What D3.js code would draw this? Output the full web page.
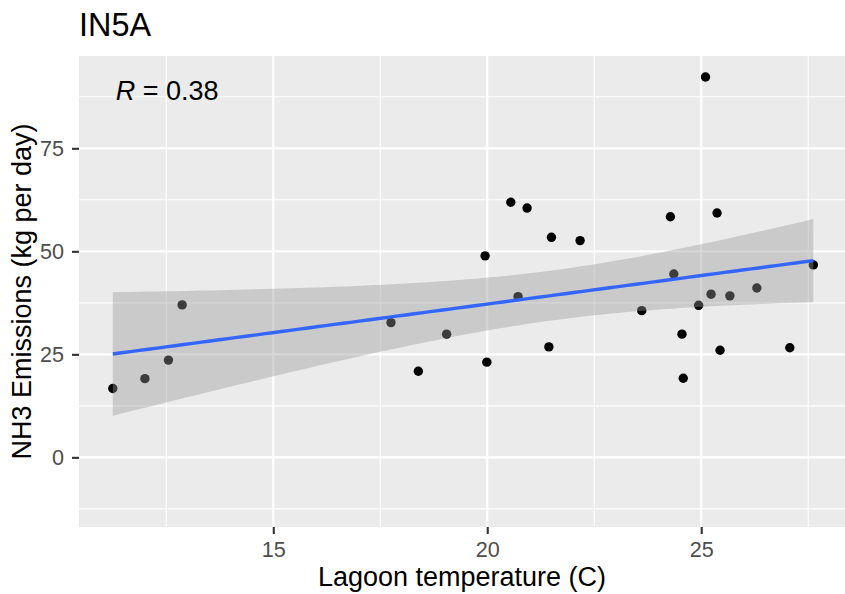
<!DOCTYPE html>
<html>
<head>
<meta charset="utf-8">
<script src="https://cdn.jsdelivr.net/npm/d3@7"></script>
<style>
  body { margin: 0; background: #fff; }
  text { font-family: "Liberation Sans", Arial, sans-serif; }
</style>
</head>
<body>
<div id="chart"></div>
<script>
// data
var lagoonTemp = [11.25, 12.0, 12.55, 12.87, 17.75, 18.39, 19.05, 19.95, 19.99, 20.55,
    20.72, 20.93, 21.44, 21.5, 22.17, 23.61, 24.28, 24.36, 24.55, 24.58,
    24.94, 25.10, 25.23, 25.37, 25.44, 25.67, 26.30, 27.07, 27.62];
var nh3 = [16.7, 19.1, 23.6, 37.0, 32.7, 20.9, 29.9, 48.9, 23.1, 61.9,
    39.0, 60.5, 26.8, 53.4, 52.6, 35.6, 58.4, 44.5, 29.9, 19.2,
    36.9, 92.3, 39.6, 59.3, 26.0, 39.2, 41.1, 26.6, 46.7];
var xTicks = [15, 20, 25];
var xMinor = [12.5, 17.5, 22.5, 27.5];
var yTicks = [0, 25, 50, 75];
var yMinor = [-12.5, 12.5, 37.5, 62.5, 87.5];
var title = "IN5A";
var corLabel = "0.38";

var width = 845, height = 594;
var panel = { left: 79, right: 845, top: 56, bottom: 527 };

var svg = d3.select("#chart").append("svg")
    .attr("width", width)
    .attr("height", height);

var x = d3.scaleLinear().domain([10.46, 28.36]).range([panel.left, panel.right]);
var y = d3.scaleLinear().domain([-16.9, 97.4]).range([panel.bottom, panel.top]);

// panel background + grid
svg.append("rect")
    .attr("x", panel.left).attr("y", panel.top)
    .attr("width", panel.right - panel.left)
    .attr("height", panel.bottom - panel.top)
    .attr("fill", "#EBEBEB");

svg.selectAll(".xminor").data(xMinor).enter().append("line")
    .attr("x1", function (d) { return x(d); }).attr("x2", function (d) { return x(d); })
    .attr("y1", panel.top).attr("y2", panel.bottom)
    .attr("stroke", "#fff").attr("stroke-width", 1.1);
svg.selectAll(".yminor").data(yMinor).enter().append("line")
    .attr("y1", function (d) { return y(d); }).attr("y2", function (d) { return y(d); })
    .attr("x1", panel.left).attr("x2", panel.right)
    .attr("stroke", "#fff").attr("stroke-width", 1.1);
svg.selectAll(".xmajor").data(xTicks).enter().append("line")
    .attr("x1", function (d) { return x(d); }).attr("x2", function (d) { return x(d); })
    .attr("y1", panel.top).attr("y2", panel.bottom)
    .attr("stroke", "#fff").attr("stroke-width", 2.2);
svg.selectAll(".ymajor").data(yTicks).enter().append("line")
    .attr("y1", function (d) { return y(d); }).attr("y2", function (d) { return y(d); })
    .attr("x1", panel.left).attr("x2", panel.right)
    .attr("stroke", "#fff").attr("stroke-width", 2.2);

// points
svg.selectAll(".pt").data(lagoonTemp).enter().append("circle")
    .attr("cx", function (d) { return x(d); })
    .attr("cy", function (d, i) { return y(nh3[i]); })
    .attr("r", 4.7)
    .attr("fill", "#000");

// linear fit with 95% band (like geom_smooth(method = "lm"))
var n = lagoonTemp.length;
var mx = d3.mean(lagoonTemp), my = d3.mean(nh3);
var sxx = 0, sxy = 0;
for (var i = 0; i < n; i++) {
    sxx += (lagoonTemp[i] - mx) * (lagoonTemp[i] - mx);
    sxy += (lagoonTemp[i] - mx) * (nh3[i] - my);
}
var slope = sxy / sxx, icpt = my - slope * mx;
var sse = 0;
for (var i = 0; i < n; i++) {
    var r = nh3[i] - (icpt + slope * lagoonTemp[i]);
    sse += r * r;
}
var s = Math.sqrt(sse / (n - 2));
var tCrit = 2.052; // t(0.975, df = 27)
var xmin = d3.min(lagoonTemp), xmax = d3.max(lagoonTemp);
var grid = d3.range(80).map(function (k) { return xmin + (xmax - xmin) * k / 79; });
var fit = grid.map(function (g) {
    var yh = icpt + slope * g;
    var se = s * Math.sqrt(1 / n + (g - mx) * (g - mx) / sxx);
    return { x: g, y: yh, lo: yh - tCrit * se, hi: yh + tCrit * se };
});

svg.append("path")
    .datum(fit)
    .attr("fill", "#999999")
    .attr("fill-opacity", 0.4)
    .attr("d", d3.area()
        .x(function (d) { return x(d.x); })
        .y0(function (d) { return y(d.lo); })
        .y1(function (d) { return y(d.hi); }));

svg.append("path")
    .datum(fit)
    .attr("fill", "none")
    .attr("stroke", "#3366FF")
    .attr("stroke-width", 3.4)
    .attr("d", d3.line()
        .x(function (d) { return x(d.x); })
        .y(function (d) { return y(d.y); }));

// axes
var gx = svg.append("g")
    .attr("transform", "translate(0," + panel.bottom + ")")
    .call(d3.axisBottom(x).tickValues(xTicks).tickSize(7).tickPadding(7.5));
var gy = svg.append("g")
    .attr("transform", "translate(" + panel.left + ",0)")
    .call(d3.axisLeft(y).tickValues(yTicks).tickSize(7).tickPadding(8));
[gx, gy].forEach(function (g) {
    g.select(".domain").remove();
    g.selectAll(".tick line").attr("stroke", "#333333").attr("stroke-width", 2.1);
    g.selectAll(".tick text")
        .attr("fill", "#4D4D4D")
        .style("font-size", "21.6px")
        .style("font-family", "'Liberation Sans', Arial, sans-serif");
});

// titles
svg.append("text")
    .attr("x", panel.left).attr("y", 35.7)
    .style("font-size", "32.4px")
    .attr("fill", "#000")
    .text(title);

svg.append("text")
    .attr("x", (panel.left + panel.right) / 2).attr("y", 585.5)
    .attr("text-anchor", "middle")
    .style("font-size", "27px")
    .attr("fill", "#000")
    .text("Lagoon temperature (C)");

svg.append("text")
    .attr("transform", "translate(31," + (panel.top + panel.bottom) / 2 + ") rotate(-90)")
    .attr("text-anchor", "middle")
    .style("font-size", "27px")
    .attr("fill", "#000")
    .text("NH3 Emissions (kg per day)");

// correlation label
var lab = svg.append("text")
    .attr("x", x(11.32)).attr("y", 100)
    .style("font-size", "27px")
    .attr("fill", "#000");
lab.append("tspan").style("font-style", "italic").text("R");
lab.append("tspan").text(" = " + corLabel);
</script>
</body>
</html>
